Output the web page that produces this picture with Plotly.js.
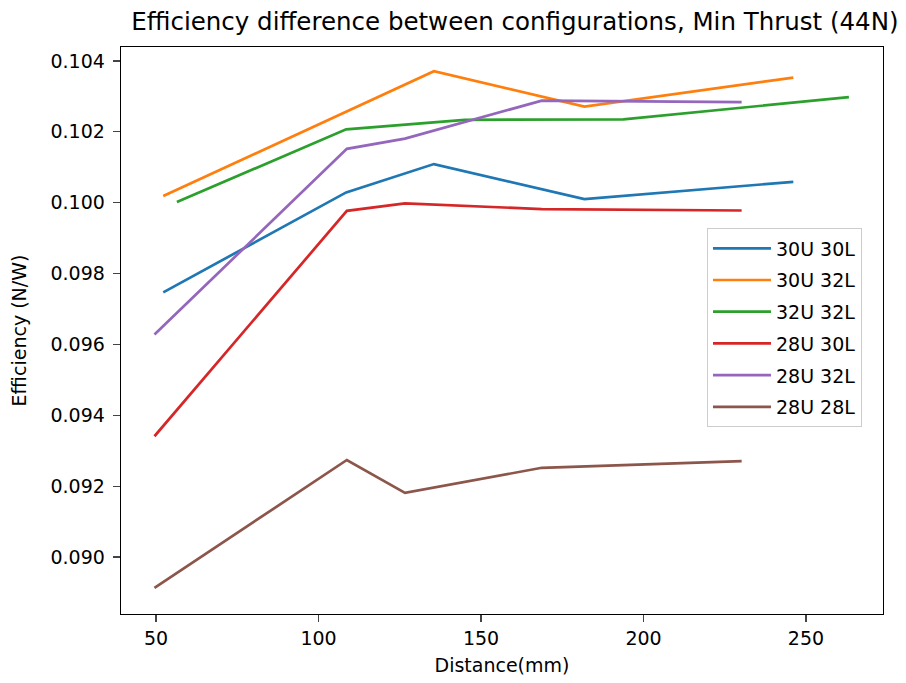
<!DOCTYPE html>
<html>
<head>
<meta charset="utf-8">
<script src="https://cdn.plot.ly/plotly-3.0.1.min.js"></script>
<style>html,body{margin:0;padding:0;background:#fff;}#chart{width:906px;height:683px;}</style>
</head>
<body>
<div id="chart"></div>
<script>
// Series names
const seriesNames = ["30U 30L", "30U 32L", "32U 32L", "28U 30L", "28U 32L", "28U 28L"];

// Distances (mm)
const x30U30L = [52.2, 108.5, 135.5, 181.8, 246.1];
const x30U32L = [52.2, 108.5, 135.5, 181.8, 246.1];
const x32U32L = [56.4, 108.5, 145.0, 193.8, 263.2];
const x28U30L = [49.5, 108.7, 126.6, 168.7, 230.2];
const x28U32L = [49.5, 108.7, 126.6, 168.7, 230.2];
const x28U28L = [49.5, 108.7, 126.6, 168.7, 230.2];

// Efficiency (N/W)
const y30U30L = [0.09747, 0.10029, 0.10109, 0.10010, 0.10059];
const y30U32L = [0.10019, 0.10257, 0.10371, 0.10271, 0.10353];
const y32U32L = [0.10002, 0.10207, 0.10234, 0.10235, 0.10298];
const y28U30L = [0.09341, 0.09977, 0.09998, 0.09982, 0.09978];
const y28U32L = [0.09628, 0.10152, 0.10181, 0.10288, 0.10284];
const y28U28L = [0.08913, 0.09274, 0.09181, 0.09252, 0.09271];

// Tick labels
const xTickVals = [50, 100, 150, 200, 250];
const yTickVals = [0.090, 0.092, 0.094, 0.096, 0.098, 0.100, 0.102, 0.104];
const yTickText = ["0.090", "0.092", "0.094", "0.096", "0.098", "0.100", "0.102", "0.104"];

const colors = ["#1f77b4", "#ff7f0e", "#2ca02c", "#d62728", "#9467bd", "#8c564b"];
const xs = [x30U30L, x30U32L, x32U32L, x28U30L, x28U32L, x28U28L];
const ys = [y30U30L, y30U32L, y32U32L, y28U30L, y28U32L, y28U28L];

const traces = seriesNames.map((n, i) => ({
  type: "scatter", mode: "lines", name: n,
  x: xs[i], y: ys[i],
  legendgroup: "g" + i,
  line: {color: colors[i], width: 2.7}
}));

const font = "DejaVu Sans, sans-serif";
const layout = {
  width: 906, height: 683,
  paper_bgcolor: "#fff", plot_bgcolor: "#fff",
  margin: {l: 121, r: 23, t: 47, b: 69},
  font: {family: font, size: 19, color: "#000"},
  title: {text: "Efficiency difference between configurations, Min Thrust (44N)",
          font: {family: font, size: 24.5, color: "#000"},
          x: 0.517, xanchor: "center", xref: "paper", y: 0.968, yanchor: "middle"},
  xaxis: {range: [39.2, 273.7], tickvals: xTickVals, ticks: "outside", ticklen: 7, tickwidth: 1.3,
          showline: true, mirror: true, linecolor: "#000", linewidth: 1.3, showgrid: false, zeroline: false,
          tickfont: {size: 19}, title: {text: "Distance(mm)", font: {size: 19}, standoff: 10}},
  yaxis: {range: [0.088394, 0.104394], tickvals: yTickVals, ticktext: yTickText, ticks: "outside", ticklen: 7, tickwidth: 1.3,
          ticklabelstandoff: 4,
          showline: true, mirror: true, linecolor: "#000", linewidth: 1.3, showgrid: false, zeroline: false,
          tickfont: {size: 19}, title: {text: "Efficiency (N/W)", font: {size: 19}, standoff: 18}},
  showlegend: true,
  legend: {x: 0.769, y: 0.68, xanchor: "left", yanchor: "top", bgcolor: "rgba(255,255,255,0.8)",
           bordercolor: "#cccccc", borderwidth: 1, font: {size: 19}, tracegroupgap: 4, traceorder: "grouped",
           itemwidth: 58}
};
Plotly.newPlot("chart", traces, layout, {displayModeBar: false, staticPlot: true});
</script>
</body>
</html>
